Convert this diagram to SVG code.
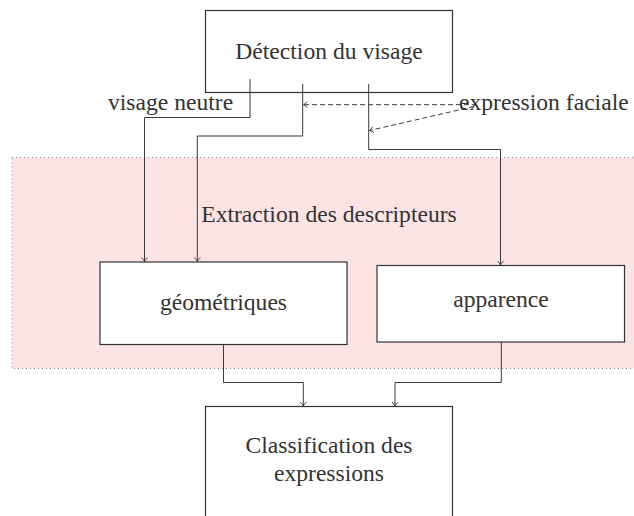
<svg xmlns="http://www.w3.org/2000/svg" width="634" height="516" viewBox="0 0 634 516">
  <defs>
    <marker id="tip" viewBox="-5 -4 6 8" markerWidth="6" markerHeight="8" refX="0" refY="0" orient="auto" markerUnits="userSpaceOnUse">
      <path d="M-4,-3 Q-1.5,-0.5 0,0 Q-1.5,0.5 -4,3" fill="none" stroke="#333" stroke-width="0.9"/>
    </marker>
    <style>
      .box { fill: #fff; stroke: #333; stroke-width: 1.2; }
      .lbl { font-family: "Liberation Serif", "DejaVu Serif", serif; font-size: 23.6px; fill: #333; }
      .mid { text-anchor: middle; }
      .wire { fill: none; stroke: #3a3a3a; stroke-width: 1; marker-end: url(#tip); }
      .dash { fill: none; stroke: #3a3a3a; stroke-width: 1; stroke-dasharray: 5 3; marker-end: url(#tip); }
    </style>
  </defs>

  <rect width="634" height="516" fill="#fff"/>

  <!-- descriptor extraction area -->
  <g id="extraction">
    <rect x="12" y="157.5" width="640" height="211" fill="#fce3e4" stroke="#8a7f80" stroke-width="1" stroke-dasharray="1 3"/>
    <text class="lbl mid" x="329" y="222">Extraction des descripteurs</text>
  </g>

  <g id="detection">
    <rect class="box" x="205.5" y="10.5" width="247" height="82"/>
    <text class="lbl mid" x="329" y="59">Détection du visage</text>
  </g>

  <g id="geometriques">
    <rect class="box" x="100" y="262" width="247" height="82.5"/>
    <text class="lbl mid" x="223.5" y="310">géométriques</text>
  </g>

  <g id="apparence">
    <rect class="box" x="377" y="265.5" width="247.5" height="76.5"/>
    <text class="lbl mid" x="501" y="307">apparence</text>
  </g>

  <g id="classification">
    <rect class="box" x="205.5" y="406.5" width="247" height="130"/>
    <text class="lbl mid" x="329" y="453">Classification des</text>
    <text class="lbl mid" x="329" y="481">expressions</text>
  </g>

  <g id="labels">
    <text class="lbl" x="108" y="110">visage neutre</text>
    <text class="lbl" x="459" y="110">expression faciale</text>
  </g>

  <g id="connectors">
    <path class="wire" d="M250,79 V117.5 H144.5 V261.5"/>
    <path class="wire" d="M302.7,84 V136 H197.3 V261.5"/>
    <path class="wire" d="M368.7,84 V149.5 H500.5 V265"/>
    <path class="wire" d="M223.5,344.5 V382.5 H303.3 V406"/>
    <path class="wire" d="M501.3,342 V382.5 H395 V406"/>
    <path class="dash" d="M477,104.7 H303.5"/>
    <path class="dash" d="M474,106.5 L369.5,130.5"/>
  </g>
</svg>
